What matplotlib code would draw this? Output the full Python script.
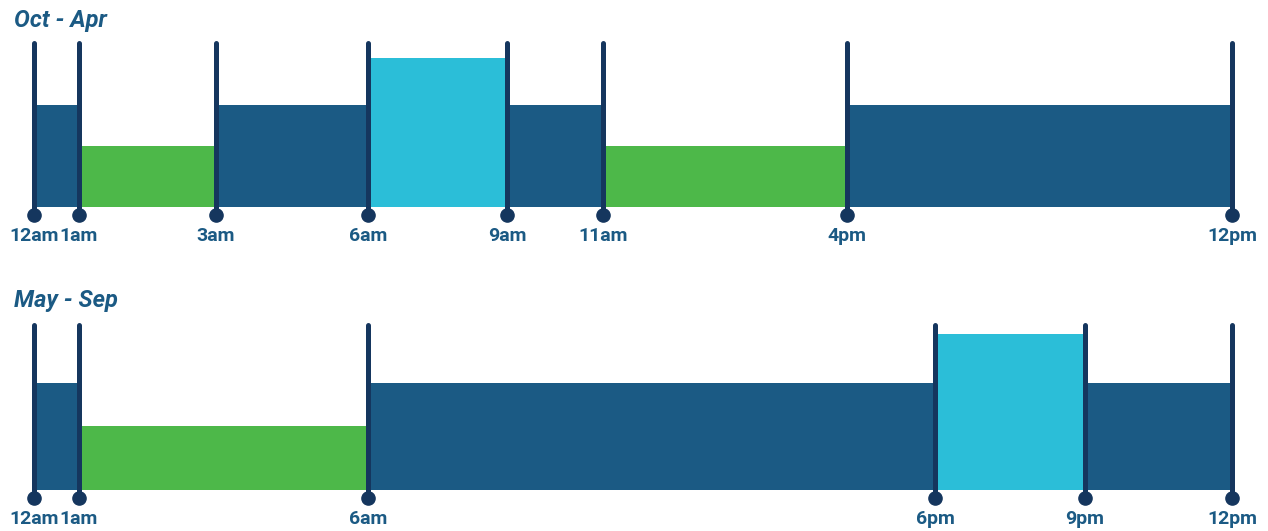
import numpy as np
import matplotlib
matplotlib.use("Agg")
import matplotlib.pyplot as plt

# rate periods, hours from midnight
oct_apr_bounds = [0, 1, 3, 6, 9, 11, 16, 24]
oct_apr_labels = ["12am", "1am", "3am", "6am", "9am", "11am", "4pm", "12pm"]
oct_apr_tiers = ["mid", "off", "mid", "on", "mid", "off", "mid"]

may_sep_bounds = [0, 1, 6, 18, 21, 24]
may_sep_labels = ["12am", "1am", "6am", "6pm", "9pm", "12pm"]
may_sep_tiers = ["mid", "off", "mid", "on", "mid"]

# relative bar height per tier (1 = top of the divider lines)
oct_apr_levels = {"off": 0.37, "mid": 0.62, "on": 0.91}
may_sep_levels = {"off": 0.39, "mid": 0.65, "on": 0.945}

# schematic (non-linear) spacing of the hour axis used by the graphic
knot_hours = [0, 1, 3, 6, 9, 11, 16, 18, 21, 24]
knot_pos = [34, 79, 216, 368, 507, 603, 847, 935, 1085, 1232]

tier_colors = {"off": "#4db849", "mid": "#1b5a84", "on": "#2bbed8"}
line_color = "#15365e"
text_color = "#1b5a84"

W, H = 1268, 531
fig = plt.figure(figsize=(W / 100, H / 100), dpi=100)


def fwd(h):
    return np.interp(h, knot_hours, knot_pos)


def inv(p):
    return np.interp(p, knot_pos, knot_hours)


def panel(base_px, top_px, bounds, labels, tiers, levels, title, title_base_px):
    x0, x1 = knot_pos[0], knot_pos[-1]
    ax = fig.add_axes([x0 / W, 1 - base_px / H, (x1 - x0) / W, (base_px - top_px) / H])
    ax.set_xscale("function", functions=(fwd, inv))
    ax.set_xlim(bounds[0], bounds[-1])
    ax.set_ylim(0, 1)
    ax.axis("off")

    lefts = bounds[:-1]
    widths = np.diff(bounds)
    heights = [levels[t] for t in tiers]
    colors = [tier_colors[t] for t in tiers]
    ax.bar(lefts, heights, width=widths, align="edge", color=colors,
           linewidth=0, zorder=1)

    drop = 8 / (base_px - top_px)
    ax.vlines(bounds, -drop, 1, color=line_color, linewidth=3.6,
              zorder=3, clip_on=False, capstyle="round")
    ax.plot(bounds, [-drop] * len(bounds), "o", color=line_color,
            markersize=9.5, zorder=4, clip_on=False)
    for b, lab in zip(bounds, labels):
        ax.annotate(lab, (b, 0), xytext=(0, -14.5), textcoords="offset points",
                    ha="center", va="top", fontsize=14, fontweight="bold",
                    family="Roboto", color=text_color, annotation_clip=False)

    fig.text(14 / W, 1 - title_base_px / H, title, ha="left", va="baseline",
             fontsize=17, fontweight="bold", fontstyle="italic",
             family="Roboto", color=text_color)
    return ax


panel(207, 43, oct_apr_bounds, oct_apr_labels, oct_apr_tiers, oct_apr_levels,
      "Oct - Apr", 27)
panel(490, 325, may_sep_bounds, may_sep_labels, may_sep_tiers, may_sep_levels,
      "May - Sep", 307)

fig.savefig("out.png", dpi=100)
